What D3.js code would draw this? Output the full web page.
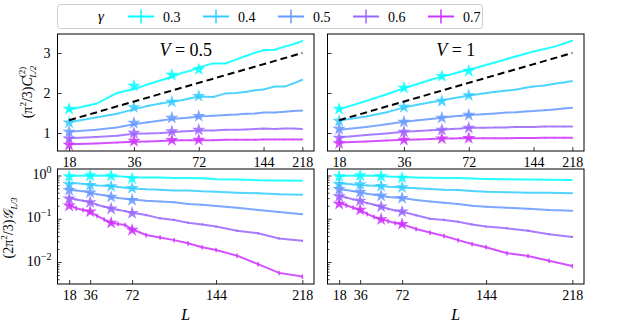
<!DOCTYPE html>
<html>
<head>
<meta charset="utf-8">
<script src="https://cdn.jsdelivr.net/npm/d3@7"></script>
<style>
  body { margin: 0; background: #fff; }
  text { font-family: "Liberation Serif", "DejaVu Serif", serif; }
</style>
</head>
<body>
<script>
// Entanglement C and G vs L, two interaction strengths, five gammas

const Ls = [18, 24, 30, 36, 42, 48, 54, 60, 66, 72, 84, 96, 108, 120, 132, 144, 162, 180, 198, 218];
const starLs = [18, 36, 54, 72];
const gammas = ['0.3', '0.4', '0.5', '0.6', '0.7'];
const colors = ['#00ffff', '#33ccff', '#6699ff', '#9966ff', '#cc33ff'];
const xTicks = [18, 36, 72, 144, 218];

// top row: (pi^2/3) C^(2)_{L/2}
const cV05 = [
  [1.58, 1.73, 2.00, 2.10, 2.22, 2.32, 2.40, 2.50, 2.56, 2.64, 2.74, 2.74, 2.84, 2.93, 3.01, 3.07, 3.08, 3.16, 3.22, 3.30],
  [1.27, 1.39, 1.48, 1.59, 1.68, 1.74, 1.79, 1.82, 1.87, 1.91, 1.90, 1.99, 2.00, 2.03, 2.07, 2.09, 2.16, 2.16, 2.24, 2.33],
  [1.03, 1.08, 1.14, 1.22, 1.27, 1.31, 1.35, 1.37, 1.39, 1.41, 1.43, 1.45, 1.46, 1.48, 1.49, 1.51, 1.51, 1.53, 1.55, 1.56],
  [0.87, 0.90, 0.93, 0.98, 0.99, 1.00, 1.02, 1.04, 1.05, 1.06, 1.06, 1.08, 1.08, 1.09, 1.10, 1.11, 1.10, 1.11, 1.11, 1.10],
  [0.72, 0.74, 0.76, 0.78, 0.79, 0.80, 0.81, 0.82, 0.82, 0.82, 0.82, 0.83, 0.83, 0.83, 0.83, 0.84, 0.84, 0.84, 0.84, 0.84]
];
const cV05stars = [[1.60, 2.18, 2.45, 2.59], [1.26, 1.64, 1.78, 1.92], [1.03, 1.25, 1.38, 1.42], [0.86, 1.00, 1.04, 1.08], [0.70, 0.80, 0.82, 0.83]];

const cV1 = [
  [1.59, 1.80, 1.97, 2.12, 2.23, 2.33, 2.41, 2.47, 2.53, 2.58, 2.68, 2.77, 2.85, 2.92, 2.98, 3.04, 3.10, 3.16, 3.23, 3.31],
  [1.31, 1.41, 1.52, 1.64, 1.71, 1.77, 1.81, 1.86, 1.90, 1.94, 1.99, 2.03, 2.06, 2.09, 2.13, 2.16, 2.19, 2.23, 2.26, 2.30],
  [1.08, 1.15, 1.22, 1.28, 1.32, 1.35, 1.38, 1.41, 1.43, 1.45, 1.47, 1.49, 1.51, 1.52, 1.54, 1.55, 1.57, 1.59, 1.61, 1.63],
  [0.89, 0.95, 0.99, 1.03, 1.05, 1.07, 1.08, 1.10, 1.11, 1.13, 1.13, 1.14, 1.14, 1.15, 1.15, 1.15, 1.16, 1.16, 1.16, 1.16],
  [0.76, 0.79, 0.81, 0.83, 0.84, 0.85, 0.86, 0.86, 0.87, 0.87, 0.87, 0.87, 0.87, 0.875, 0.875, 0.875, 0.88, 0.88, 0.88, 0.88]
];
const cV1stars = [[1.60, 2.13, 2.42, 2.55], [1.30, 1.65, 1.80, 1.94], [1.10, 1.28, 1.38, 1.45], [0.88, 1.03, 1.08, 1.13], [0.74, 0.83, 0.86, 0.87]];

// dashed reference line (top row)
const refLs = [18, 218];
const refVals = [1.32, 3.0];

// bottom row: (2pi^2/3) G_{L/3}
const gV05 = [
  [0.97, 0.98, 0.99, 1.00, 0.99, 0.99, 0.98, 0.96, 0.94, 0.91, 0.90, 0.90, 0.88, 0.88, 0.86, 0.82, 0.81, 0.78, 0.77, 0.76],
  [0.66, 0.66, 0.64, 0.61, 0.59, 0.58, 0.57, 0.54, 0.52, 0.50, 0.48, 0.47, 0.45, 0.45, 0.43, 0.42, 0.40, 0.39, 0.37, 0.36],
  [0.46, 0.45, 0.43, 0.40, 0.37, 0.35, 0.32, 0.30, 0.29, 0.28, 0.26, 0.25, 0.24, 0.22, 0.21, 0.197, 0.18, 0.16, 0.143, 0.127],
  [0.30, 0.28, 0.26, 0.24, 0.21, 0.19, 0.174, 0.16, 0.15, 0.138, 0.122, 0.102, 0.094, 0.081, 0.074, 0.066, 0.053, 0.046, 0.035, 0.031],
  [0.21, 0.175, 0.16, 0.146, 0.116, 0.097, 0.081, 0.076, 0.072, 0.057, 0.042, 0.037, 0.032, 0.027, 0.022, 0.019, 0.014, 0.0089, 0.0056, 0.0046]
];
const gV05stars = [[0.95, 1.0, 0.98, 0.85], [0.62, 0.60, 0.56, 0.51], [0.46, 0.40, 0.32, 0.27], [0.29, 0.24, 0.17, 0.135], [0.20, 0.146, 0.08, 0.055]];

const gV1 = [
  [0.97, 0.98, 0.99, 1.00, 0.99, 0.98, 0.97, 0.95, 0.93, 0.92, 0.90, 0.89, 0.88, 0.87, 0.85, 0.83, 0.82, 0.81, 0.80, 0.79],
  [0.66, 0.64, 0.62, 0.60, 0.59, 0.58, 0.57, 0.55, 0.54, 0.53, 0.51, 0.49, 0.47, 0.46, 0.44, 0.42, 0.41, 0.40, 0.40, 0.39],
  [0.48, 0.46, 0.43, 0.41, 0.38, 0.36, 0.34, 0.32, 0.31, 0.30, 0.27, 0.25, 0.235, 0.22, 0.20, 0.19, 0.18, 0.17, 0.16, 0.154],
  [0.34, 0.31, 0.28, 0.26, 0.23, 0.21, 0.19, 0.17, 0.155, 0.146, 0.12, 0.10, 0.094, 0.085, 0.074, 0.066, 0.060, 0.053, 0.044, 0.038],
  [0.235, 0.205, 0.18, 0.16, 0.13, 0.11, 0.097, 0.088, 0.08, 0.075, 0.058, 0.048, 0.040, 0.032, 0.026, 0.022, 0.016, 0.0138, 0.0107, 0.0081]
];
const gV1stars = [[0.95, 1.0, 0.96, 0.88], [0.63, 0.62, 0.57, 0.53], [0.48, 0.41, 0.34, 0.30], [0.33, 0.26, 0.19, 0.146], [0.22, 0.16, 0.097, 0.075]];

// error bar half-widths: absolute (top), relative (bottom)
const errTop = [0.015, 0.015, 0.015, 0.015, 0.015];
const errBottom = [0.02, 0.03, 0.04, 0.06, 0.12];

const svg = d3.select('body').append('svg')
  .attr('width', 622)
  .attr('height', 323);

const pw = 256.5, phTop = 117, phBot = 115;
const panels = [
  {x0: 57.5, y0: 34, h: phTop, top: true, V: '0.5', data: cV05, stars: cV05stars, ylab: true},
  {x0: 327.5, y0: 34, h: phTop, top: true, V: '1', data: cV1, stars: cV1stars, ylab: false},
  {x0: 57.5, y0: 169, h: phBot, top: false, data: gV05, stars: gV05stars, ylab: true},
  {x0: 327.5, y0: 169, h: phBot, top: false, data: gV1, stars: gV1stars, ylab: false}
];

const star = d3.symbol().type(d3.symbolStar).size(55);

panels.forEach(p => {
  const g = svg.append('g').attr('transform', `translate(${p.x0},${p.y0})`);

  const x = p.top
    ? d3.scaleLog().domain([15.9, 246.9]).range([0, pw])
    : d3.scaleLinear().domain([8, 228]).range([0, pw]);
  const y = p.top
    ? d3.scaleLinear().domain([0.55, 3.475]).range([p.h, 0])
    : d3.scaleLog().domain([Math.pow(10, -2.509), Math.pow(10, 0.150)]).range([p.h, 0]);

  // x axis, ticks inward
  const xa = g.append('g')
    .attr('transform', `translate(0,${p.h})`)
    .call(d3.axisBottom(x).tickValues(xTicks).tickFormat(d3.format('d')).tickSizeInner(-4).tickSizeOuter(0).tickPadding(6));
  xa.attr('font-family', null).select('.domain').remove();
  xa.selectAll('text').attr('font-size', 14).attr('fill', '#000');

  // y axis
  let ya;
  if (p.top) {
    ya = g.append('g').call(d3.axisLeft(y).tickValues([1, 2, 3]).tickFormat(d3.format('d')).tickSizeInner(-4).tickSizeOuter(0).tickPadding(7));
    if (!p.ylab) ya.selectAll('text').remove();
  } else {
    const minor = [];
    [0.001, 0.01, 0.1, 1].forEach(dec => {
      for (let k = 2; k <= 9; k++) {
        const v = dec * k;
        if (v >= y.domain()[0] && v <= y.domain()[1]) minor.push(v);
      }
    });
    g.append('g').call(d3.axisLeft(y).tickValues(minor).tickFormat('').tickSizeInner(-2).tickSizeOuter(0))
      .select('.domain').remove();
    ya = g.append('g').call(d3.axisLeft(y).tickValues([1, 0.1, 0.01]).tickFormat('').tickSizeInner(-4).tickSizeOuter(0).tickPadding(6));
    if (p.ylab) {
      ya.selectAll('.tick').append('text')
        .attr('x', -6).attr('dy', '0.32em')
        .attr('text-anchor', 'end')
        .attr('fill', '#000')
        .each(function (d) {
          const t = d3.select(this);
          const e = Math.round(Math.log10(d));
          t.append('tspan').attr('font-size', 14).text('10');
          t.append('tspan').attr('dy', -6).attr('font-size', 10).text(e === 0 ? '0' : '\u2212' + Math.abs(e));
        });
    }
  }
  ya.attr('font-family', null).select('.domain').remove();
  ya.selectAll('text').attr('fill', '#000');
  if (p.top) ya.selectAll('text').attr('font-size', 14);
  g.selectAll('.tick line').attr('stroke', '#000').attr('stroke-width', 0.8);

  // clip
  const clipId = 'clip' + Math.round(p.x0) + '_' + p.y0;
  g.append('clipPath').attr('id', clipId).append('rect').attr('width', pw).attr('height', p.h);
  const plot = g.append('g').attr('clip-path', `url(#${clipId})`);

  const line = d3.line().x(d => x(d[0])).y(d => y(d[1]));

  p.data.forEach((vals, i) => {
    const pts = Ls.map((L, j) => [L, vals[j]]);
    plot.append('path')
      .attr('d', line(pts))
      .attr('fill', 'none')
      .attr('stroke', colors[i])
      .attr('stroke-width', 2)
      .attr('stroke-opacity', 0.85);
    plot.selectAll(null)
      .data(pts)
      .enter()
      .append('line')
      .attr('x1', d => x(d[0])).attr('x2', d => x(d[0]))
      .attr('y1', d => p.top ? y(d[1] - errTop[i]) : y(d[1] * (1 - errBottom[i])))
      .attr('y2', d => p.top ? y(d[1] + errTop[i]) : y(d[1] * (1 + errBottom[i])))
      .attr('stroke', colors[i])
      .attr('stroke-width', 1.5)
      .attr('stroke-opacity', 0.85);
  });

  p.stars.forEach((vals, i) => {
    plot.selectAll(null)
      .data(starLs.map((L, j) => [L, vals[j]]))
      .enter()
      .append('path')
      .attr('d', star)
      .attr('transform', d => `translate(${x(d[0])},${y(d[1])})`)
      .attr('fill', colors[i])
      .attr('fill-opacity', 0.85);
  });

  if (p.top) {
    plot.append('path')
      .attr('d', line(refLs.map((L, j) => [L, refVals[j]])))
      .attr('fill', 'none')
      .attr('stroke', '#000')
      .attr('stroke-width', 2)
      .attr('stroke-dasharray', '7,4');

    const vt = g.append('text')
      .attr('x', pw / 2).attr('y', 22)
      .attr('text-anchor', 'middle')
      .attr('font-size', 18);
    vt.append('tspan').attr('font-style', 'italic').text('V');
    vt.append('tspan').text(' = ' + p.V);
  } else {
    g.append('text')
      .attr('x', pw / 2).attr('y', p.h + 36)
      .attr('text-anchor', 'middle')
      .attr('font-size', 16)
      .attr('font-style', 'italic')
      .text('L');
  }

  // frame
  g.append('rect')
    .attr('width', pw).attr('height', p.h)
    .attr('fill', 'none')
    .attr('stroke', '#000')
    .attr('stroke-width', 1);
});

// y labels
const yl1 = svg.append('text')
  .attr('transform', 'translate(32,92) rotate(-90)')
  .attr('text-anchor', 'middle')
  .attr('font-size', 14);
yl1.append('tspan').text('(\u03c0');
yl1.append('tspan').attr('dy', -6).attr('font-size', 9).text('2');
yl1.append('tspan').attr('dy', 6).text('/3)');
yl1.append('tspan').attr('font-style', 'italic').text('C');
yl1.append('tspan').attr('dy', -7).attr('font-size', 9).text('(2)');
yl1.append('tspan').attr('dy', 11).attr('dx', -11).attr('font-size', 9).attr('font-style', 'italic').text('L/2');

const yl2 = svg.append('text')
  .attr('transform', 'translate(13,228) rotate(-90)')
  .attr('text-anchor', 'middle')
  .attr('font-size', 14);
yl2.append('tspan').text('(2\u03c0');
yl2.append('tspan').attr('dy', -6).attr('font-size', 9).text('2');
yl2.append('tspan').attr('dy', 6).text('/3)');
yl2.append('tspan').attr('font-style', 'italic').text('\ud835\udca2');
yl2.append('tspan').attr('dy', 4).attr('font-size', 9).attr('font-style', 'italic').text('L/3');

// legend
const leg = svg.append('g');
leg.append('rect')
  .attr('x', 57.5).attr('y', 4.5)
  .attr('width', 425).attr('height', 24)
  .attr('rx', 3)
  .attr('fill', '#fff')
  .attr('stroke', '#ccc');
leg.append('text')
  .attr('x', 101).attr('y', 21)
  .attr('text-anchor', 'middle')
  .attr('font-size', 15)
  .attr('font-style', 'italic')
  .text('\u03b3');
const items = leg.selectAll('.item')
  .data(gammas)
  .enter()
  .append('g')
  .attr('transform', (d, i) => `translate(${128 + i * 75},16.5)`);
items.append('line')
  .attr('x1', 0).attr('x2', 26)
  .attr('stroke', (d, i) => colors[i])
  .attr('stroke-width', 2);
items.append('line')
  .attr('x1', 13).attr('x2', 13).attr('y1', -7).attr('y2', 7)
  .attr('stroke', (d, i) => colors[i])
  .attr('stroke-width', 1.5);
items.append('text')
  .attr('x', 35).attr('y', 5)
  .attr('font-size', 14)
  .text(d => d);
</script>
</body>
</html>
